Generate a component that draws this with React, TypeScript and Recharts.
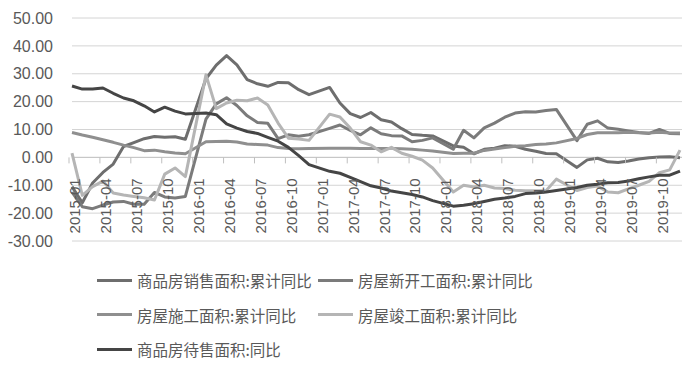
import React from "react";
import { LineChart, Line, XAxis, YAxis, CartesianGrid, ReferenceLine, Legend } from "recharts";

const MONTHS: string[] = [
  "2015-01","2015-02","2015-03","2015-04","2015-05","2015-06","2015-07","2015-08","2015-09","2015-10","2015-11","2015-12",
  "2016-01","2016-02","2016-03","2016-04","2016-05","2016-06","2016-07","2016-08","2016-09","2016-10","2016-11","2016-12",
  "2017-01","2017-02","2017-03","2017-04","2017-05","2017-06","2017-07","2017-08","2017-09","2017-10","2017-11","2017-12",
  "2018-01","2018-02","2018-03","2018-04","2018-05","2018-06","2018-07","2018-08","2018-09","2018-10","2018-11","2018-12",
  "2019-01","2019-02","2019-03","2019-04","2019-05","2019-06","2019-07","2019-08","2019-09","2019-10","2019-11","2019-12",
];

// 商品房销售面积:累计同比
const SALES: (number | null)[] = [
  -10.5, -16.3, -9.2, -5.4, -2.4, 3.9, 5.3, 6.7, 7.5, 7.2, 7.4, 6.5,
  null, 28.2, 33.1, 36.5, 33.2, 27.9, 26.4, 25.5, 26.9, 26.8, 24.3, 22.5,
  null, 25.1, 19.5, 15.7, 14.3, 16.1, 13.5, 12.7, 10.3, 8.2, 7.9, 7.7,
  null, 4.1, 3.6, 1.3, 2.9, 3.3, 4.2, 4.0, 2.9, 2.2, 1.4, 1.3,
  null, -3.6, -0.9, -0.3, -1.6, -1.8, -1.3, -0.6, -0.1, 0.1, 0.2, -0.1,
];

// 房屋新开工面积:累计同比
const NEW_START: (number | null)[] = [
  -12.5, -17.7, -18.4, -17.1, -16.0, -15.8, -16.8, -16.8, -12.6, -14.2, -14.6, -14.0,
  null, 13.7, 19.2, 21.4, 18.6, 14.9, 12.5, 12.2, 6.7, 8.1, 7.6, 8.1,
  null, 10.4, 11.6, 9.7, 8.1, 10.6, 8.5, 7.8, 7.7, 5.6, 6.1, 7.0,
  null, 2.9, 9.7, 7.0, 10.6, 12.3, 14.4, 15.9, 16.4, 16.3, 16.8, 17.2,
  null, 6.0, 11.9, 13.1, 10.5, 10.1, 9.5, 8.9, 8.6, 10.0, 8.6, 8.5,
];

// 房屋施工面积:累计同比
const CONSTRUCTION: (number | null)[] = [
  8.9, 8.0, 7.2, 6.3, 5.4, 4.4, 3.5, 2.4, 2.6, 2.0, 1.6, 1.3,
  null, 5.6, 5.7, 5.8, 5.5, 4.8, 4.6, 4.4, 3.5, 3.2, 3.1, 3.2,
  null, 3.3, 3.3, 3.3, 3.2, 3.2, 3.2, 3.2, 3.1, 2.9, 2.6, 2.3,
  null, 1.4, 1.5, 1.5, 2.5, 3.0, 3.5, 4.0, 4.2, 4.6, 4.8, 5.2,
  null, 6.8, 8.2, 8.8, 8.8, 8.8, 9.0, 8.8, 8.7, 9.0, 8.7, 8.7,
];

// 房屋竣工面积:累计同比
const COMPLETION: (number | null)[] = [
  1.5, -13.6, -10.5, -8.5, -12.8, -13.5, -14.0, -14.5, -15.3, -6.0, -3.8, -6.9,
  null, 29.6, 17.5, 19.5, 20.5, 20.3, 21.3, 18.8, 12.3, 6.9, 6.6, 6.1,
  null, 15.5, 14.5, 10.5, 5.6, 4.4, 2.0, 3.6, 1.5, 0.4, -1.0, -3.8,
  null, -12.4, -10.0, -10.6, -10.0, -11.0, -11.2, -11.8, -12.0, -12.0, -12.0, -7.8,
  null, -11.9, -10.8, -10.3, -12.4, -12.7, -11.3, -10.0, -8.6, -5.5, -4.5, 2.6,
];

// 商品房待售面积:同比
const INVENTORY: (number | null)[] = [
  25.6, 24.5, 24.5, 24.9, 23.0, 21.3, 20.3, 18.5, 16.3, 18.0, 16.6, 15.6,
  null, 15.9, 15.3, 12.0, 10.5, 9.3, 8.6, 7.2, 5.8, 3.6, 0.6, -2.6,
  null, -5.0, -5.7, -7.2, -8.7, -10.2, -11.0, -12.1, -12.7, -13.3, -14.2, -15.5,
  null, -17.5, -17.2, -16.6, -15.8, -15.0, -14.6, -14.0, -13.0, -12.8, -12.4, -11.9,
  null, -10.8, -10.0, -9.6, -9.1, -9.0, -8.5, -7.7, -7.0, -6.4, -6.4, -4.9,
];

const Y_TICKS: number[] = [-30, -20, -10, 0, 10, 20, 30, 40, 50];

const SERIES = [
  { key: "sales", name: "商品房销售面积:累计同比", values: SALES, color: "#6e6e6e" },
  { key: "newStart", name: "房屋新开工面积:累计同比", values: NEW_START, color: "#7b7b7b" },
  { key: "construction", name: "房屋施工面积:累计同比", values: CONSTRUCTION, color: "#8f8f8f" },
  { key: "completion", name: "房屋竣工面积:累计同比", values: COMPLETION, color: "#b5b5b5" },
  { key: "inventory", name: "商品房待售面积:同比", values: INVENTORY, color: "#454545" },
];

const data = MONTHS.map((m, i) => {
  const row: Record<string, string | number | null> = { month: m };
  SERIES.forEach((s) => {
    row[s.key] = s.values[i];
  });
  return row;
});

const W = 682;
const H = 358;
const M_TOP = 10;
const X_AXIS_H = 20;
const M_BOTTOM = 105;
const PLOT_H = H - M_TOP - M_BOTTOM - X_AXIS_H;
const Y_MIN = -30;
const Y_MAX = 50;
const ZERO_Y = M_TOP + (PLOT_H * (Y_MAX - 0)) / (Y_MAX - Y_MIN);

const TEXT_COLOR = "#595959";
const LATIN_FONT = "'Liberation Sans', Arial, sans-serif";
const CJK_FONT = "'Noto Sans CJK SC', 'Noto Sans', sans-serif";

const XTick = (props: any) => {
  const { x, payload } = props;
  const tx = x + 3;
  const ty = ZERO_Y + 21;
  return (
    <g>
      <line x1={x - 3} x2={x - 3} y1={ZERO_Y} y2={ZERO_Y + 6} stroke="#bfbfbf" strokeWidth={1} />
      <text
        x={tx}
        y={ty}
        transform={`rotate(-90 ${tx} ${ty})`}
        textAnchor="end"
        dy="0.36em"
        fill={TEXT_COLOR}
        fontSize={15}
        fontFamily={LATIN_FONT}
      >
        {payload.value}
      </text>
    </g>
  );
};

const LegendContent = (props: any) => {
  const payload = props.payload || [];
  const ordered = SERIES.map((s) => payload.find((p: any) => p.value === s.name)).filter(Boolean);
  const rows = [17, 51.5, 86];
  const cols = [89, 310];
  return (
    <div style={{ position: "relative", width: W, height: 103 }}>
      {ordered.map((p: any, i: number) => {
        const r = Math.floor(i / 2);
        const c = i % 2;
        return (
          <div
            key={i}
            style={{
              position: "absolute",
              left: cols[c],
              top: rows[r] - 12,
              height: 24,
              display: "flex",
              alignItems: "center",
              whiteSpace: "nowrap",
            }}
          >
            <div style={{ width: 35, height: 3, background: p.color, marginRight: 5 }} />
            <span style={{ fontFamily: CJK_FONT, fontSize: 15.5, color: TEXT_COLOR, lineHeight: "24px" }}>
              {p.value}
            </span>
          </div>
        );
      })}
    </div>
  );
};

export default function App() {
  return (
    <div style={{ width: W, height: H, position: "relative" }}>
      <LineChart width={W} height={H} data={data} margin={{ top: M_TOP, right: 7, left: 0, bottom: M_BOTTOM }}>
        <CartesianGrid vertical={false} stroke="#d4d4d4" strokeWidth={1} />
        <XAxis
          dataKey="month"
          height={X_AXIS_H}
          interval={2}
          axisLine={false}
          tickLine={false}
          tick={<XTick />}
          padding={{ left: 0, right: 3 }}
        />
        <YAxis
          width={64}
          domain={[Y_MIN, Y_MAX]}
          ticks={Y_TICKS}
          interval={0}
          axisLine={false}
          tickLine={false}
          tickSize={0}
          tickMargin={19}
          tickFormatter={(v: number) => v.toFixed(2)}
          tick={{ fill: TEXT_COLOR, fontSize: 16, fontFamily: LATIN_FONT }}
        />
        <ReferenceLine y={0} stroke="#c4c4c4" strokeWidth={1} />
        {SERIES.map((s) => (
          <Line
            key={s.key}
            type="linear"
            dataKey={s.key}
            name={s.name}
            stroke={s.color}
            strokeWidth={3}
            dot={false}
            activeDot={false}
            connectNulls
            isAnimationActive={false}
            strokeLinejoin="round"
          />
        ))}
        <Legend
          layout="horizontal"
          verticalAlign="middle"
          align="center"
          content={<LegendContent />}
          wrapperStyle={{ position: "absolute", left: 0, top: 255, width: W, height: 103 }}
        />
      </LineChart>
    </div>
  );
}
